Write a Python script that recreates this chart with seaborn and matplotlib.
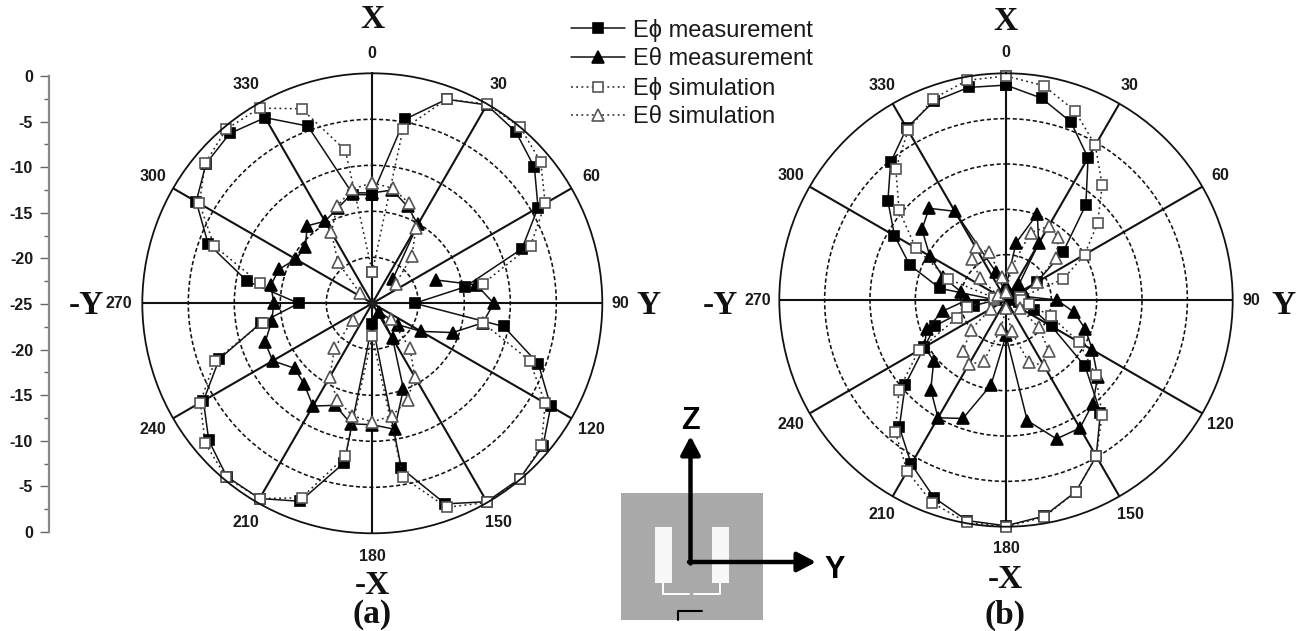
import numpy as np
import pandas as pd
import matplotlib
matplotlib.use("Agg")
import matplotlib.pyplot as plt
from matplotlib.lines import Line2D
from matplotlib.patches import Rectangle
import seaborn as sns

nan = np.nan
ANGLES = list(range(0, 360, 10))

A_PHI_MEAS = [-13.2,-4.7,-1.4,-0.1,-0.7,-2.0,-4.2,-7.7,-14.8,-20.4,-10.5,-5.8,-2.6,-0.8,-0.1,-0.1,-1.8,-6.8,
              -22.8,-7.4,-2.1,-0.5,-0.4,-1.8,-3.8,-7.3,-12.7,-17.0,-11.2,-6.0,-2.9,-1.4,-0.9,-1.7,-4.5,-13.0]
A_PHI_SIM = [-21.6,-5.8,-1.4,0.0,0.0,-1.1,-3.3,-6.7,-12.8,nan,-12.8,-6.8,-3.3,-1.0,0.0,0.0,-1.4,-5.8,
             -21.4,-8.1,-2.5,-0.5,-0.3,-1.3,-3.4,-6.8,-12.9,nan,-12.6,-6.7,-3.3,-1.3,-0.3,-0.5,-2.5,-8.1]
A_THETA_MEAS = [-13.0,-12.5,-13.8,-15.1,-21.5,nan,nan,-17.6,-13.5,-11.8,-12.8,-15.7,-18.9,-21.4,-23.8,-20.6,-15.1,-11.1,
                -11.8,-11.7,-13.2,-12.1,-13.5,-14.0,-12.5,-12.6,-13.9,-14.3,-13.8,-14.2,-15.4,-15.5,-14.0,-14.7,-14.0,-12.8]
A_THETA_SIM = [-11.9,-12.3,-13.4,-15.5,-18.3,-21.7,nan,nan,nan,nan,nan,nan,nan,-22.4,-18.6,-15.8,-13.8,-12.6,
               -12.1,-12.6,-13.8,-15.8,-18.6,-22.2,nan,nan,nan,nan,nan,nan,nan,-23.2,-19.2,-16.1,-13.8,-12.4]

B_PHI_MEAS = [-1.3,-2.4,-4.1,-6.9,-11.3,-16.8,-21.1,-23.5,-24.3,-24.6,-23.5,-21.7,-19.2,-13.6,-8.8,-5.1,-2.5,-0.8,
              -0.1,-0.3,-1.8,-4.1,-6.7,-10.5,-14.6,-16.7,-21.4,-23.9,-17.6,-13.7,-10.8,-8.0,-5.2,-3.1,-1.7,-1.2]
B_PHI_SIM = [-0.3,-1.0,-2.8,-5.3,-8.5,-11.8,-15.0,-18.3,-23.4,-23.4,-22.4,-19.7,-15.7,-12.1,-8.5,-5.1,-2.5,-0.7,
             0.0,-0.1,-1.2,-3.2,-6.0,-9.6,-13.9,-19.2,-20.6,-23.7,-23.7,-18.2,-13.5,-9.6,-6.1,-3.4,-1.4,-0.4]
B_THETA_MEAS = [-23.5,-18.6,-14.9,-17.8,-22.8,-24.1,-24.3,-24.4,-22.8,-19.4,-17.4,-15.7,-14.0,-11.8,-10.1,-8.7,-8.7,-11.5,
                -21.1,-15.5,-11.1,-10.0,-12.1,-14.6,-14.6,-15.7,-17.9,-20.7,-20.0,-17.6,-15.3,-12.9,-11.8,-13.7,-21.7,-23.9]
B_THETA_SIM = [-24.1,-21.3,-17.1,-15.6,-16.0,-17.8,-21.1,nan,nan,nan,nan,nan,-23.2,-20.3,-17.6,-16.7,-17.7,-21.5,
               -24.1,-21.8,-17.8,-16.8,-17.7,-19.9,-23.1,nan,nan,nan,nan,nan,-24.0,-21.3,-19.1,-18.3,-19.4,-22.4]

ANGLE_LABELS = list(range(0, 360, 30))
SCALE_LABELS = ["0","-5","-10","-15","-20","-25","-20","-15","-10","-5","0"]
LEGEND_LABELS = ["E\u03d5 measurement", "E\u03b8 measurement", "E\u03d5 simulation", "E\u03b8 simulation"]

W, H = 1300, 631
sns.set_theme(style="white")
SANS = ["Liberation Sans", "DejaVu Sans"]
SERIF = ["Liberation Serif", "DejaVu Serif"]
plt.rcParams["font.family"] = SANS

fig = plt.figure(figsize=(W / 100, H / 100), dpi=100, facecolor="white")


def px_axes(cx, cy, R, **kw):
    return fig.add_axes([(cx - R) / W, 1 - (cy + R) / H, 2 * R / W, 2 * R / H], **kw)


STYLES = {
    "phi_meas": dict(marker="s", markersize=7.0, markerfacecolor="black", markeredgecolor="black",
                     linestyle="-", linewidth=1.1, color="#111111"),
    "theta_meas": dict(marker="^", markersize=8.6, markerfacecolor="black", markeredgecolor="black",
                       linestyle="-", linewidth=1.1, color="#111111"),
    "phi_sim": dict(marker="s", markersize=7.2, markerfacecolor="white", markeredgecolor="#555555",
                    linestyle=(0, (1.2, 2.2)), linewidth=1.1, color="#222222"),
    "theta_sim": dict(marker="^", markersize=9.2, markerfacecolor="white", markeredgecolor="#555555",
                      linestyle=(0, (1.2, 2.2)), linewidth=1.1, color="#222222"),
}


def draw_series(ax, values, key):
    ang = np.array(ANGLES + [360], dtype=float)
    val = np.array(list(values) + [values[0]], dtype=float)
    seg = np.cumsum(np.isnan(val))
    df = pd.DataFrame({"theta": np.deg2rad(ang), "db": val, "seg": seg}).dropna()
    st = dict(STYLES[key])
    sns.lineplot(data=df, x="theta", y="db", units="seg", estimator=None, sort=False, ax=ax,
                 markeredgewidth=1.2, clip_on=False, legend=False, errorbar=None, **st)


def polar(cx, cy, R, series, label_r, label_shift):
    ax = px_axes(cx, cy, R, projection="polar")
    ax.set_theta_zero_location("N")
    ax.set_theta_direction(-1)
    for vals, key in series:
        draw_series(ax, vals, key)
    ax.set_ylim(-25, 0)
    ax.set_xlabel("")
    ax.set_ylabel("")
    ax.set_yticks([-20, -15, -10, -5])
    ax.set_yticklabels([])
    ax.set_xticks(np.deg2rad(ANGLE_LABELS))
    ax.set_xticklabels([])
    ax.set_xticks(np.deg2rad(np.arange(15, 360, 30)), minor=True)
    ax.tick_params(axis="x", which="minor", direction="in", length=3.5, width=0.8, color="#222222", bottom=True)
    ax.tick_params(axis="x", which="major", length=0)
    ax.grid(True)
    ax.xaxis.grid(True, which="major", color="#111111", linestyle="-", linewidth=1.5)
    ax.yaxis.grid(True, color="#111111", linestyle=(0, (2.6, 1.6)), linewidth=1.15)
    ax.spines["polar"].set_color("#111111")
    ax.spines["polar"].set_linewidth(1.3)
    ax.set_axisbelow(True)
    for a in ANGLE_LABELS:
        ax.text(np.deg2rad(a), label_r + label_shift.get(a, 0), str(a), ha="center", va="center", fontsize=11.5,
                fontweight="bold", color="#1a1a1a", clip_on=False)
    return ax


polar(372.3, 303.3, 230, [(A_PHI_MEAS, "phi_meas"), (A_THETA_MEAS, "theta_meas"),
                          (A_PHI_SIM, "phi_sim"), (A_THETA_SIM, "theta_sim")], 2.5, {0: -0.35, 90: -0.5})
polar(1006, 300, 226.7, [(B_PHI_MEAS, "phi_meas"), (B_THETA_MEAS, "theta_meas"),
                         (B_PHI_SIM, "phi_sim"), (B_THETA_SIM, "theta_sim")], 2.35, {90: -0.3, 0: -0.1})

# dB scale at the far left
sc = fig.add_axes([49 / W, 1 - 532 / H, 0.001, 456 / H], facecolor="none")
sc.set_ylim(0, 50)
sc.set_xticks([])
sc.set_yticks(np.arange(0, 51, 5))
sc.set_yticklabels(SCALE_LABELS[::-1], fontweight="bold", fontsize=11.5, color="#1a1a1a")
sc.set_yticks(np.arange(2.5, 50, 5), minor=True)
sc.tick_params(axis="y", which="major", left=True, length=6.5, width=1, color="#666666", pad=5)
sc.tick_params(axis="y", which="minor", left=True, length=3.5, width=1, color="#666666")
sns.despine(ax=sc, left=False, right=True, top=True, bottom=True)
sc.spines["left"].set_color("#888888")
sc.spines["left"].set_linewidth(1.6)

# overlay in pixel coordinates
ov = fig.add_axes([0, 0, 1, 1], facecolor="none", zorder=5)
ov.set_xlim(0, W)
ov.set_ylim(H, 0)
ov.axis("off")

for x, y, s, ha in [(372, 20, "X", "center"), (372, 586, "-X", "center"), (104, 306, "-Y", "right"),
                    (648, 306, "Y", "center"), (372, 615, "(a)", "center"),
                    (1005, 22, "X", "center"), (1005, 580, "-X", "center"), (738, 305, "-Y", "right"),
                    (1283, 305, "Y", "center"), (1005, 615, "(b)", "center")]:
    ov.text(x, y, s, ha=ha, va="center", family=SERIF, fontweight="bold", fontsize=24, color="#111111")

# antenna inset
ov.add_patch(Rectangle((620.7, 492.7), 142.3, 127.3, facecolor="#a9a9a9", edgecolor="none"))
for x0 in (655, 711.7):
    ov.add_patch(Rectangle((x0, 527), 17.3, 56, facecolor="#f7f7f7", edgecolor="none"))
ov.plot([662.7, 662.7, 689.3], [583, 594, 594], color="white", lw=1.4)
ov.plot([694, 720, 720], [594, 594, 583], color="white", lw=1.4)
ov.plot([678.3, 678.3, 701.7], [620, 611, 611], color="black", lw=1.5)
arrow = dict(arrowstyle="-|>,head_width=0.42,head_length=0.8", color="black", lw=3.2,
             mutation_scale=14, shrinkA=0, shrinkB=0)
ov.annotate("", xy=(690.5, 436), xytext=(690.5, 563.5), arrowprops=arrow)
ov.annotate("", xy=(816, 562), xytext=(689, 562), arrowprops=arrow)
ov.text(690, 421, "Z", ha="center", va="center", fontweight="bold", fontsize=22, color="black")
ov.text(835, 570, "Y", ha="center", va="center", fontweight="bold", fontsize=22, color="black")

# legend
handles = [Line2D([], [], **{k: v for k, v in STYLES[key].items()}, markeredgewidth=1.2)
           for key in ("phi_meas", "theta_meas", "phi_sim", "theta_sim")]
leg = ov.legend(handles, LEGEND_LABELS, loc="upper left", bbox_to_anchor=(550, -2.6),
                bbox_transform=ov.transData, frameon=False, fontsize=17, numpoints=1,
                handlelength=2.29, handletextpad=0.33, labelspacing=0.28, borderpad=0.4)
for t in leg.get_texts():
    t.set_color("#1a1a1a")

fig.savefig("out.png", dpi=100, facecolor="white")
